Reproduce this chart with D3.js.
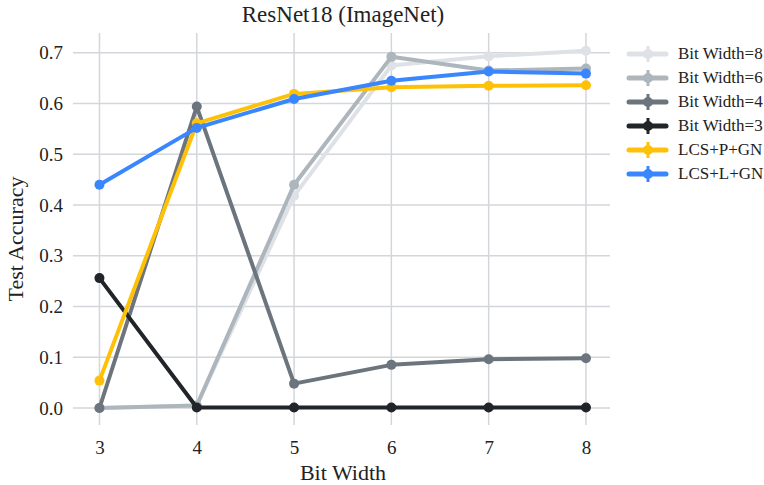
<!DOCTYPE html>
<html><head><meta charset="utf-8">
<script src="https://cdn.jsdelivr.net/npm/d3@7"></script>
<style>body{margin:0;background:#fff;} text{font-family:"Liberation Serif","DejaVu Serif",serif;fill:#222;}</style>
</head><body>
<svg id="c" width="764" height="485"></svg>
<script>
const bitWidths = [3, 4, 5, 6, 7, 8];
const seriesNames = ["Bit Width=8", "Bit Width=6", "Bit Width=4", "Bit Width=3", "LCS+P+GN", "LCS+L+GN"];
const bw8 = [0.0, 0.005, 0.418, 0.675, 0.693, 0.704];
const bw6 = [0.0, 0.005, 0.440, 0.692, 0.665, 0.669];
const bw4 = [0.0, 0.594, 0.048, 0.085, 0.096, 0.098];
const bw3 = [0.256, 0.001, 0.001, 0.001, 0.001, 0.001];
const lcsP = [0.054, 0.561, 0.619, 0.632, 0.635, 0.636];
const lcsL = [0.440, 0.552, 0.609, 0.645, 0.663, 0.659];
const seriesColors = ["#dee2e6", "#adb5bd", "#6c757d", "#212529", "#ffc107", "#3a86ff"];
const yTicks = [0, 0.1, 0.2, 0.3, 0.4, 0.5, 0.6, 0.7];

const seriesValues = [bw8, bw6, bw4, bw3, lcsP, lcsL];
const svg = d3.select("#c");
const pL = 73, pR = 610, pT = 33, pB = 425;
const x = d3.scaleLinear().domain([2.728, 8.247]).range([pL, pR]);
const y = d3.scaleLinear().domain([-0.0335, 0.739]).range([pB, pT]);

// grid
svg.append("g").selectAll("line").data(bitWidths).join("line")
  .attr("x1", d => x(d)).attr("x2", d => x(d)).attr("y1", pT).attr("y2", pB)
  .attr("stroke", "#d3d6da").attr("stroke-width", 1.5);
svg.append("g").selectAll("line").data(yTicks).join("line")
  .attr("x1", pL).attr("x2", pR).attr("y1", d => y(d)).attr("y2", d => y(d))
  .attr("stroke", "#d3d6da").attr("stroke-width", 1.5);

// axes labels via d3 axes (no domain/ticks lines)
const xAxis = svg.append("g").attr("transform", `translate(0,${pB})`)
  .call(d3.axisBottom(x).tickValues(bitWidths).tickFormat(d3.format("d")).tickSize(0).tickPadding(16));
const yAxis = svg.append("g").attr("transform", `translate(${pL},0)`)
  .call(d3.axisLeft(y).tickValues(yTicks).tickFormat(d3.format(".1f")).tickSize(0).tickPadding(10));
[xAxis, yAxis].forEach(a => {
  a.select(".domain").remove();
  a.selectAll("text").attr("font-family", "Liberation Serif").attr("font-size", 19).attr("fill", "#222");
});

// lines
const line = d3.line().x((d, i) => x(bitWidths[i])).y(d => y(d));
seriesValues.forEach((vals, s) => {
  const g = svg.append("g");
  g.append("path").datum(vals).attr("d", line).attr("fill", "none")
    .attr("stroke", seriesColors[s]).attr("stroke-width", 4).attr("stroke-linejoin", "round");
  g.selectAll("circle").data(vals).join("circle")
    .attr("cx", (d, i) => x(bitWidths[i])).attr("cy", d => y(d)).attr("r", 5)
    .attr("fill", seriesColors[s]);
});

// title & axis titles
svg.append("text").attr("x", 343).attr("y", 22).attr("text-anchor", "middle")
  .attr("font-size", 23).text("ResNet18 (ImageNet)");
svg.append("text").attr("x", 343).attr("y", 480).attr("text-anchor", "middle")
  .attr("font-size", 22).text("Bit Width");
svg.append("text").attr("transform", `translate(23,239) rotate(-90)`)
  .attr("text-anchor", "middle").attr("font-size", 22).text("Test Accuracy");

// legend
const lg = svg.append("g");
seriesNames.forEach((name, i) => {
  const ly = 54 + i * 24;
  lg.append("line").attr("x1", 629).attr("x2", 666).attr("y1", ly).attr("y2", ly)
    .attr("stroke", seriesColors[i]).attr("stroke-width", 5).attr("stroke-linecap", "round");
  lg.append("line").attr("x1", 648).attr("x2", 648).attr("y1", ly - 8).attr("y2", ly + 8)
    .attr("stroke", seriesColors[i]).attr("stroke-width", 3);
  lg.append("circle").attr("cx", 648).attr("cy", ly).attr("r", 5).attr("fill", seriesColors[i]);
  lg.append("text").attr("x", 678).attr("y", ly + 5).attr("font-size", 17).text(name);
});
</script>
</body></html>
